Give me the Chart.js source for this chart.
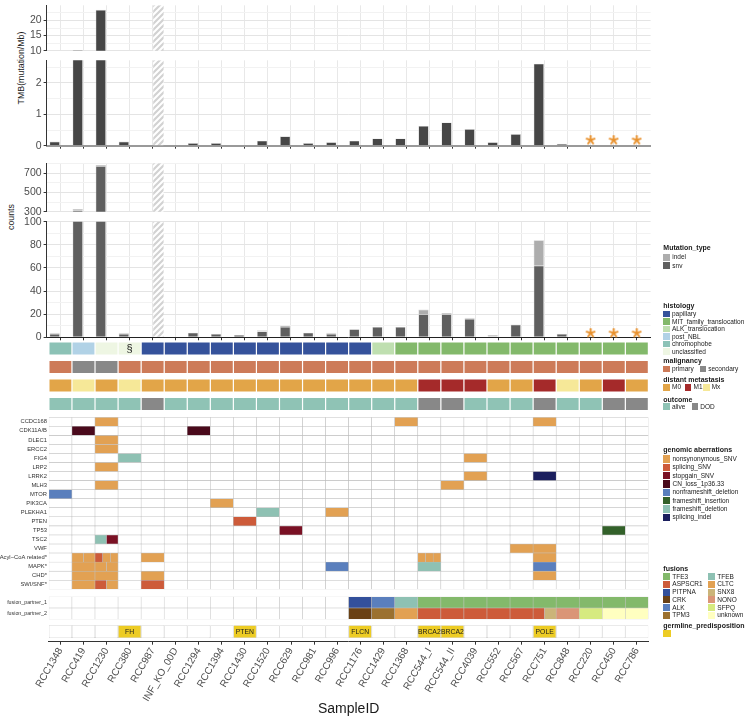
<!DOCTYPE html>
<html lang="en">
<head>
<meta charset="UTF-8">
<title>RCC cohort - TMB, mutation counts and genomic landscape</title>
<script src="https://cdn.jsdelivr.net/npm/chart.js@4.4.1/dist/chart.umd.min.js"></script>
<style>
  body { margin: 0; background: #fff; }
  #page { position: relative; width: 748px; height: 718px; overflow: hidden; font-family: "Liberation Sans", Arial, sans-serif; }
  #page canvas { position: absolute; left: 0; }
  .ytitle { position: absolute; transform: translate(-50%, -50%) rotate(-90deg); font-size: 8.8px; color: #1a1a1a; white-space: nowrap; }
  .lg-title { position: absolute; font-size: 7px; font-weight: bold; color: #1a1a1a; white-space: nowrap; transform: translateY(-50%); line-height: 1; }
  .lg-sw { position: absolute; }
  .lg-txt { position: absolute; font-size: 6.5px; color: #1a1a1a; white-space: nowrap; transform: translateY(-50%); line-height: 1; }
</style>
</head>
<body>
<div id="page">
  <div class="ytitle" style="left:21px; top:68px">TMB(mutation/Mb)</div>
  <div class="ytitle" style="left:11px; top:217px">counts</div>
</div>
<script>
// ---- data ----
const samples = ['RCC1348', 'RCC419', 'RCC1230', 'RCC380', 'RCC987', 'INF_KO_00D', 'RCC1294', 'RCC1394',
  'RCC1430', 'RCC1520', 'RCC629', 'RCC981', 'RCC996', 'RCC1176', 'RCC1429', 'RCC1368', 'RCC544_I',
  'RCC544_II', 'RCC4039', 'RCC552', 'RCC567', 'RCC751', 'RCC848', 'RCC220', 'RCC450', 'RCC786'];

const tmb = [0.13, 10.2, 23.5, 0.13, null, 0, 0.085, 0.085, 0, 0.16, 0.3, 0.085, 0.11,
  0.16, 0.23, 0.23, 0.63, 0.74, 0.53, 0.11, 0.37, 2.61, 0.06, null, null, null];
const snvCounts = [3, 311, 776, 3, null, 0, 4, 3, 2, 5, 9, 4, 3, 7, 9, 9, 20, 20, 16, 1, 11, 62, 3, null, null, null];
const indelCounts = [1, 18, 10, 1, null, 0, 0, 0, 0, 1, 1, 0, 1, 0, 0, 0, 4, 1, 1, 1, 0, 22, 0, null, null, null];
const hatchedSamples = ['RCC987'];
const starredSamples = ['RCC220', 'RCC450', 'RCC786'];
const starLevelTmb = 0.18;
const starLevelCounts = 3.7;

const tmbUpperTicks = [10, 15, 20], tmbUpperMinor = [12.5, 17.5, 22.5];
const tmbLowerTicks = [0, 1, 2], tmbLowerMinor = [0.5, 1.5, 2.5];
const cntUpperTicks = [300, 500, 700], cntUpperMinor = [400, 600, 800];
const cntLowerTicks = [0, 20, 40, 60, 80, 100], cntLowerMinor = [10, 30, 50, 70, 90];

const histology = ['chromophobe', 'post_NBL', 'unclassified', 'unclassified',
  'papillary', 'papillary', 'papillary', 'papillary', 'papillary', 'papillary', 'papillary', 'papillary', 'papillary', 'papillary',
  'ALK_translocation', 'MIT_family_translocation', 'MIT_family_translocation', 'MIT_family_translocation',
  'MIT_family_translocation', 'MIT_family_translocation', 'MIT_family_translocation', 'MIT_family_translocation',
  'MIT_family_translocation', 'MIT_family_translocation', 'MIT_family_translocation', 'MIT_family_translocation'];
const footnoteSamples = ['RCC380'];
const malignancy = ['primary', 'secondary', 'secondary', 'primary', 'primary', 'primary', 'primary', 'primary', 'primary',
  'primary', 'primary', 'primary', 'primary', 'primary', 'primary', 'primary', 'primary', 'primary', 'primary', 'primary',
  'primary', 'primary', 'primary', 'primary', 'primary', 'primary'];
const metastasis = ['M0', 'Mx', 'M0', 'Mx', 'M0', 'M0', 'M0', 'M0', 'M0', 'M0', 'M0', 'M0', 'M0', 'M0', 'M0', 'M0',
  'M1', 'M1', 'M1', 'M0', 'M0', 'M1', 'Mx', 'M0', 'M1', 'M0'];
const outcome = ['alive', 'alive', 'alive', 'alive', 'DOD', 'alive', 'alive', 'alive', 'alive', 'alive', 'alive', 'alive',
  'alive', 'alive', 'alive', 'alive', 'DOD', 'DOD', 'alive', 'alive', 'alive', 'DOD', 'alive', 'alive', 'DOD', 'DOD'];

const genes = ['CCDC168', 'CDK11A/B', 'DLEC1', 'ERCC2', 'FIG4', 'LRP2', 'LRRK2', 'MLH3', 'MTOR', 'PIK3CA', 'PLEKHA1',
  'PTEN', 'TP53', 'TSC2', 'VWF', 'Acyl\u2212CoA related*', 'MAPK*', 'CHD*', 'SWI/SNF*'];
// one token per sample (groups of five split by |); several letters = split cell
// N nonsynonymous_SNV, S splicing_SNV, G stopgain_SNV, C CN_loss, D nonframeshift_deletion,
// I frameshift_insertion, F frameshift_deletion, X splicing_indel
const geneCalls = [
  '- - N - - | - - - - - | - - - - - | N - - - - | - N - - - | -',
  '- C - - - | - C - - - | - - - - - | - - - - - | - - - - - | -',
  '- - N - - | - - - - - | - - - - - | - - - - - | - - - - - | -',
  '- - N - - | - - - - - | - - - - - | - - - - - | - - - - - | -',
  '- - - F - | - - - - - | - - - - - | - - - N - | - - - - - | -',
  '- - N - - | - - - - - | - - - - - | - - - - - | - - - - - | -',
  '- - - - - | - - - - - | - - - - - | - - - N - | - X - - - | -',
  '- - N - - | - - - - - | - - - - - | - - N - - | - - - - - | -',
  'D - - - - | - - - - - | - - - - - | - - - - - | - - - - - | -',
  '- - - - - | - - N - - | - - - - - | - - - - - | - - - - - | -',
  '- - - - - | - - - - F | - - N - - | - - - - - | - - - - - | -',
  '- - - - - | - - - S - | - - - - - | - - - - - | - - - - - | -',
  '- - - - - | - - - - - | G - - - - | - - - - - | - - - - I | -',
  '- - FG - - | - - - - - | - - - - - | - - - - - | - - - - - | -',
  '- - - - - | - - - - - | - - - - - | - - - - - | N N - - - | -',
  '- NN SNN - N | - - - - - | - - - - - | - NNN - - - | - N - - - | -',
  '- N NN - - | - - - - - | - - D - - | - F - - - | - D - - - | -',
  '- N N - N | - - - - - | - - - - - | - - - - - | - N - - - | -',
  '- N SN - S | - - - - - | - - - - - | - - - - - | - - - - - | -'
];

const fusionPartner1 = ['', '', '', '', '', '', '', '', '', '', '', '', '', 'PITPNA', 'ALK', 'TFEB',
  'TFE3', 'TFE3', 'TFE3', 'TFE3', 'TFE3', 'TFE3', 'TFE3', 'TFE3', 'TFE3', 'TFE3'];
const fusionPartner2 = ['', '', '', '', '', '', '', '', '', '', '', '', '', 'CRK', 'TPM3', 'CLTC',
  'ASPSCR1', 'ASPSCR1', 'ASPSCR1', 'ASPSCR1', 'ASPSCR1', 'ASPSCR1/SNX8', 'NONO', 'SFPQ', 'unknown', 'unknown'];
const germline = ['', '', '', 'FH', '', '', '', '', 'PTEN', '', '', '', '', 'FLCN', '', '', 'BRCA2', 'BRCA2',
  '', '', '', 'POLE', '', '', '', ''];

// ---- colours ----
const histologyColors = { papillary: '#35529b', MIT_family_translocation: '#83b96b', ALK_translocation: '#bfdfb0',
  post_NBL: '#b1d2e6', chromophobe: '#8cc2b6', unclassified: '#eef6e3' };
const malignancyColors = { primary: '#cd7b59', secondary: '#888888' };
const metastasisColors = { M0: '#e2a548', M1: '#a52a2a', Mx: '#f6e898' };
const outcomeColors = { alive: '#8fc3b5', DOD: '#888888' };
const aberrations = [['N', 'nonsynonymous_SNV', '#e2a153'], ['S', 'splicing_SNV', '#cd5b3a'],
  ['G', 'stopgain_SNV', '#7a1124'], ['C', 'CN_loss_1p36.33', '#4a0a1c'], ['D', 'nonframeshift_deletion', '#5a7fbd'],
  ['I', 'frameshift_insertion', '#33612a'], ['F', 'frameshift_deletion', '#8ec1b3'], ['X', 'splicing_indel', '#1b1f5e']];
const fusionColors = { TFE3: '#83b96b', ASPSCR1: '#cd5b3a', PITPNA: '#33509b', CRK: '#6a4115', ALK: '#5a7fbd',
  TPM3: '#9b7130', TFEB: '#8ec1b3', CLTC: '#e2a153', SNX8: '#cbb479', NONO: '#da9577', SFPQ: '#d6ea80', unknown: '#ffffc0' };
const germlineColor = '#edcc24';
const TMB_COLOR = '#464646', SNV_COLOR = '#5f5f5f', INDEL_COLOR = '#adadad', STAR_COLOR = '#e8912d';

// ---- layout ----
const PANEL_L = 46.6, PANEL_R = 650.6;   // bar panels, x from -0.6 to 25.6
const HEAT_L = 48.9, HEAT_R = 648.4;     // tiles, x from -0.5 to 25.5
Chart.defaults.font.family = '"Liberation Sans", Arial, Helvetica, sans-serif';
const page = document.getElementById('page');

function addCanvas(top, height) {
  const cv = document.createElement('canvas');
  cv.width = 748;
  cv.height = height;
  cv.style.top = top + 'px';
  page.appendChild(cv);
  return cv;
}

function makeHatch() {
  const c = document.createElement('canvas');
  c.width = c.height = 6;
  const g = c.getContext('2d');
  g.fillStyle = '#ffffff';
  g.fillRect(0, 0, 6, 6);
  g.strokeStyle = '#d2d2d2';
  g.lineWidth = 2.2;
  g.beginPath();
  g.moveTo(-1, 7); g.lineTo(7, -1);
  g.moveTo(-4, 4); g.lineTo(4, -4);
  g.moveTo(2, 10); g.lineTo(10, 2);
  g.stroke();
  return g.createPattern(c, 'repeat');
}
const HATCH = makeHatch();

function makeAsterisk() {
  const c = document.createElement('canvas');
  c.width = c.height = 11;
  const g = c.getContext('2d');
  g.strokeStyle = STAR_COLOR;
  g.lineWidth = 1.9;
  g.lineCap = 'round';
  for (let k = 0; k < 5; k++) {
    const a = -Math.PI / 2 + k * 2 * Math.PI / 5;
    g.beginPath();
    g.moveTo(5.5, 5.5);
    g.lineTo(5.5 + 4.2 * Math.cos(a), 5.5 + 4.2 * Math.sin(a));
    g.stroke();
  }
  return c;
}
const STAR = makeAsterisk();

function barData(values) {
  return samples.map((s, i) => ({ x: i, y: values[i] }));
}
function hatchSet(top) {
  return { data: samples.map((s, i) => ({ x: i, y: hatchedSamples.includes(s) ? top : null })),
    backgroundColor: HATCH, barPercentage: 0.9, categoryPercentage: 1, stack: 'na' };
}
function starSet(level) {
  return { type: 'scatter', data: samples.map((s, i) => starredSamples.includes(s) ? { x: i, y: level } : null).filter(Boolean),
    pointStyle: STAR, pointRadius: 5, clip: false };
}

function barPanel(top, bottom, yMin, yMax, majors, minors, datasets, axis) {
  const ct = Math.floor(top - 8), cb = Math.ceil(bottom + 8);
  const tick = axis ? 3 : 0;
  const all = [...majors, ...minors].sort((a, b) => a - b);
  new Chart(addCanvas(ct, cb - ct), {
    type: 'bar',
    data: { datasets },
    options: {
      responsive: false, animation: false, devicePixelRatio: 1,
      layout: { padding: { left: 0, right: 748 - PANEL_R, top: top - ct, bottom: cb - bottom - tick } },
      plugins: { legend: { display: false }, tooltip: { enabled: false } },
      scales: {
        x: {
          type: 'linear', min: -0.6, max: 25.6, stacked: true, offset: false,
          afterBuildTicks: s => { s.ticks = samples.map((_, i) => ({ value: i })); },
          afterFit: s => { s.height = tick; },
          ticks: { display: false },
          grid: { color: '#e8e8e8', lineWidth: 1, offset: false, drawTicks: !!axis, tickLength: 3, tickColor: '#333' },
          border: axis ? { display: true, color: axis.color, width: axis.width } : { display: false }
        },
        y: {
          min: yMin, max: yMax, stacked: true,
          afterBuildTicks: s => { s.ticks = all.map(v => ({ value: v })); },
          afterFit: s => { s.width = PANEL_L; },
          ticks: { autoSkip: false, padding: 2, color: '#4d4d4d', font: { size: 10.5 },
            callback: v => majors.includes(v) ? String(v) : '' },
          grid: {
            color: c => majors.includes(c.tick.value) ? '#e4e4e4' : '#f2f2f2',
            tickColor: c => majors.includes(c.tick.value) ? '#333' : 'rgba(0,0,0,0)',
            lineWidth: 1, tickWidth: 1, tickLength: 3
          },
          border: { display: true, color: '#333', width: 1 }
        }
      }
    }
  });
}

const barStyle = { barPercentage: 0.9, categoryPercentage: 1, borderColor: '#d6d6d6', borderWidth: 0.6 };
function tmbSets(top) {
  return [{ ...barStyle, label: 'TMB', data: barData(tmb), backgroundColor: TMB_COLOR, stack: 'm' }, hatchSet(top)];
}
function countSets(top) {
  return [
    { ...barStyle, label: 'snv', data: barData(snvCounts), backgroundColor: SNV_COLOR, stack: 'm' },
    { ...barStyle, label: 'indel', data: barData(indelCounts), backgroundColor: INDEL_COLOR, stack: 'm' },
    hatchSet(top)
  ];
}

barPanel(5, 50.7, 10, 25, tmbUpperTicks, tmbUpperMinor, tmbSets(25));
barPanel(60, 145.7, 0, 2.72, tmbLowerTicks, tmbLowerMinor, [...tmbSets(2.72), starSet(starLevelTmb)], { color: '#999', width: 2 });
barPanel(163.3, 211.7, 300, 805, cntUpperTicks, cntUpperMinor, countSets(805));
barPanel(221.7, 337.3, 0, 100, cntLowerTicks, cntLowerMinor, [...countSets(100), starSet(starLevelCounts)], { color: '#222', width: 1 });

// ---- tile panels ----
const cellText = {
  id: 'cellText',
  afterDatasetsDraw(chart, args, opts) {
    const meta = chart.getDatasetMeta(0);
    const ctx = chart.ctx;
    ctx.save();
    ctx.font = opts.font;
    ctx.fillStyle = '#1a1a1a';
    ctx.textAlign = 'center';
    ctx.textBaseline = 'middle';
    opts.texts.forEach((t, j) => {
      if (!t) return;
      const el = meta.data[j];
      ctx.fillText(t, (el.x + el.base) / 2, el.y + 0.5);
    });
    ctx.restore();
  }
};

function tileCells(rowLabel, parts, colorOf, textOf) {
  const cells = [];
  parts.forEach((keys, i) => {
    if (!keys.length) {
      cells.push({ row: rowLabel, x0: i - 0.5, x1: i + 0.5, color: '#ffffff', text: textOf ? textOf('', i) : '' });
      return;
    }
    keys.forEach((k, j) => cells.push({
      row: rowLabel, x0: i - 0.5 + j / keys.length, x1: i - 0.5 + (j + 1) / keys.length,
      color: colorOf(k), text: textOf ? textOf(k, i) : ''
    }));
  });
  return cells;
}

function heatPanel(o) {
  const ct = Math.floor(o.top - 6);
  const cb = o.xAxis ? 718 : Math.ceil(o.bottom + 6);
  const xh = o.xAxis ? cb - o.bottom : 0;
  const x = o.xAxis ? {
    type: 'linear', min: -0.5, max: 25.5, position: 'bottom', offset: false,
    afterBuildTicks: s => { s.ticks = samples.map((_, i) => ({ value: i })); },
    afterFit: s => { s.height = xh; },
    ticks: { autoSkip: false, maxRotation: 60, minRotation: 60, padding: 1, font: { size: 10 }, color: '#4d4d4d',
      callback: v => samples[v] },
    grid: { drawOnChartArea: false, drawTicks: true, tickLength: 3, tickColor: '#333', offset: false },
    border: { display: true, color: '#333', width: 1 },
    title: { display: true, text: 'SampleID', font: { size: 14 }, color: '#1a1a1a', padding: 0 }
  } : { type: 'linear', min: -0.5, max: 25.5, display: false };
  new Chart(addCanvas(ct, cb - ct), {
    type: 'bar',
    data: {
      labels: o.rows,
      datasets: [{
        data: o.cells.map(c => ({ y: c.row, x: [c.x0, c.x1] })),
        backgroundColor: o.cells.map(c => c.color),
        borderColor: o.line, borderWidth: o.lineWidth, borderSkipped: false,
        grouped: false, barPercentage: o.fill, categoryPercentage: 1
      }]
    },
    options: {
      indexAxis: 'y', responsive: false, animation: false, devicePixelRatio: 1,
      layout: { padding: { left: o.labels ? 0 : HEAT_L, right: 748 - HEAT_R, top: o.top - ct, bottom: cb - o.bottom - xh } },
      plugins: { legend: { display: false }, tooltip: { enabled: false },
        cellText: { texts: o.cells.map(c => c.text || ''), font: o.textFont || '7px "Liberation Sans", Arial' } },
      scales: {
        x,
        y: {
          type: 'category', offset: true, display: !!o.labels,
          afterFit: s => { if (o.labels) s.width = HEAT_L; },
          ticks: { autoSkip: false, font: { size: o.labels || 6 }, color: '#333', padding: 2 },
          grid: { display: false, drawTicks: false }, border: { display: false }
        }
      }
    },
    plugins: [cellText]
  });
}

// annotation tracks
const annoRows = ['histology', 'malignancy', 'distant metastasis', 'outcome'];
heatPanel({
  top: 339.3, bottom: 413.3, rows: annoRows, fill: 0.72, line: '#ffffff', lineWidth: 0.6,
  textFont: '11px "Liberation Sans", Arial',
  cells: [
    ...tileCells(annoRows[0], histology.map(h => [h]), k => histologyColors[k],
      (k, i) => footnoteSamples.includes(samples[i]) ? '\u00a7' : ''),
    ...tileCells(annoRows[1], malignancy.map(v => [v]), k => malignancyColors[k]),
    ...tileCells(annoRows[2], metastasis.map(v => [v]), k => metastasisColors[k]),
    ...tileCells(annoRows[3], outcome.map(v => [v]), k => outcomeColors[k])
  ]
});

// genomic aberrations
const abColor = Object.fromEntries(aberrations.map(a => [a[0], a[2]]));
const geneCells = [];
genes.forEach((g, r) => {
  const tokens = geneCalls[r].split(/\s+/).filter(t => t && t !== '|');
  geneCells.push(...tileCells(g, tokens.map(t => t === '-' ? [] : t.split('')), k => abColor[k]));
});
heatPanel({ top: 417.3, bottom: 589.3, rows: genes, labels: 5.8, fill: 1, line: '#bdbdbd', lineWidth: 0.55, cells: geneCells });

// fusions
const fusionRows = ['fusion_partner_1', 'fusion_partner_2'];
heatPanel({
  top: 596.7, bottom: 619.3, rows: fusionRows, labels: 5.3, fill: 1, line: '#c4c4c4', lineWidth: 0.55,
  cells: [
    ...tileCells(fusionRows[0], fusionPartner1.map(v => v ? v.split('/') : []), k => fusionColors[k]),
    ...tileCells(fusionRows[1], fusionPartner2.map(v => v ? v.split('/') : []), k => fusionColors[k])
  ]
});

// germline row + sample axis
heatPanel({
  top: 621.5, bottom: 641.7, rows: ['germline'], fill: 0.63, line: '#bdbdbd', lineWidth: 0.55, xAxis: true,
  textFont: '6.8px "Liberation Sans", Arial',
  cells: tileCells('germline', germline.map(v => v ? [v] : []), () => germlineColor, k => k)
});

// ---- legends ----
function lgTitle(text, y) {
  const d = document.createElement('div');
  d.className = 'lg-title';
  d.style.left = '663.3px';
  d.style.top = y + 'px';
  d.textContent = text;
  page.appendChild(d);
}
function lgItem(label, color, x, y, s) {
  const sw = document.createElement('div');
  sw.className = 'lg-sw';
  Object.assign(sw.style, { left: x + 'px', top: (y - s / 2) + 'px', width: s + 'px', height: s + 'px', background: color });
  page.appendChild(sw);
  if (!label) return;
  const t = document.createElement('div');
  t.className = 'lg-txt';
  t.style.left = (x + s + 2) + 'px';
  t.style.top = y + 'px';
  t.textContent = label;
  page.appendChild(t);
}

lgTitle('Mutation_type', 246.7);
lgItem('indel', INDEL_COLOR, 663.3, 257.3, 7);
lgItem('snv', SNV_COLOR, 663.3, 265.7, 7);

lgTitle('histology', 305);
Object.keys(histologyColors).forEach((h, k) => lgItem(h, histologyColors[h], 663.3, 314 + 7.5 * k, 6.7));

lgTitle('malignancy', 360.3);
lgItem('primary', malignancyColors.primary, 663.3, 369, 6.7);
lgItem('secondary', malignancyColors.secondary, 699.5, 369, 6.7);

lgTitle('distant metastasis', 379.3);
lgItem('M0', metastasisColors.M0, 663.3, 387.3, 6.7);
lgItem('M1', metastasisColors.M1, 684.8, 387.3, 6.7);
lgItem('Mx', metastasisColors.Mx, 703, 387.3, 6.7);

lgTitle('outcome', 398.7);
lgItem('alive', outcomeColors.alive, 663.3, 406.7, 6.7);
lgItem('DOD', outcomeColors.DOD, 691.5, 406.7, 6.7);

lgTitle('genomic aberrations', 449.3);
aberrations.forEach((a, k) => lgItem(a[1], a[2], 663.3, 459 + 8.33 * k, 7.2));

lgTitle('fusions', 567.7);
Object.keys(fusionColors).forEach((f, k) =>
  lgItem(f, fusionColors[f], k < 6 ? 663.3 : 708.3, 576.7 + 7.7 * (k % 6), 7));

lgTitle('germline_predisposition', 624.7);
lgItem('', germlineColor, 663.3, 633.3, 7.3);
</script>
</body>
</html>
